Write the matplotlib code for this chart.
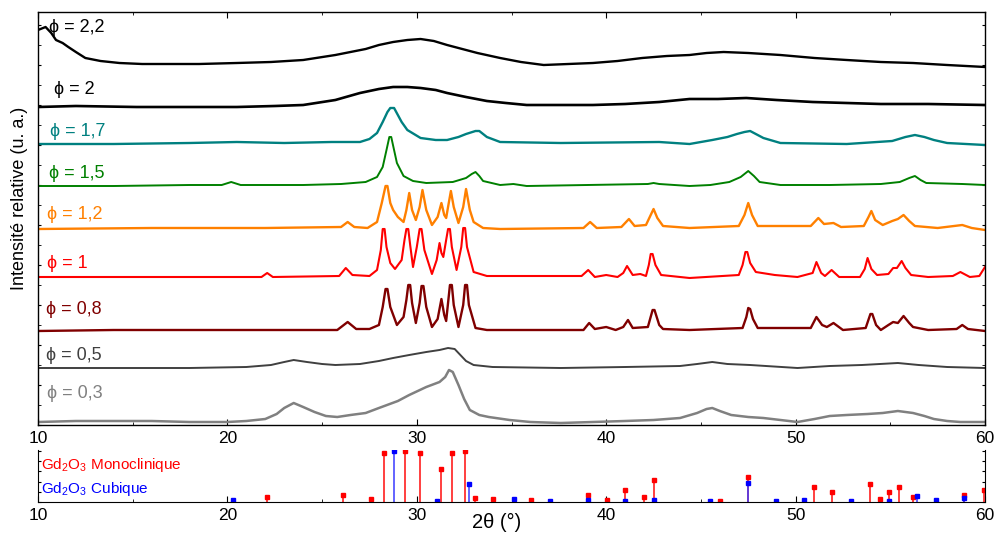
import matplotlib
matplotlib.use("Agg")
import matplotlib.pyplot as plt
from matplotlib.ticker import MultipleLocator

plt.rcParams['font.family'] = ['Liberation Sans', 'DejaVu Sans']

# ---------------- data (2theta, relative intensity incl. offset) ----------------
phi_03 = [(10,3),(12,4),(14,4),(16,4),(18,3),(20,3),(21,4),(22,6),(22.6,11),(23.0,17),(23.5,22),(24.0,18),
          (24.6,13),(25.2,9),(25.8,8),(26.5,10),(27.3,12),(28.0,17),(29.0,24),(29.6,30),(30.5,38),(31.2,43),
          (31.5,48),(31.7,55),(31.9,53),(32.2,40),(32.5,26),(32.8,15),(33.3,10),(33.8,8),(34.9,5),(36,3),
          (37.6,2),(39.3,3),(41,4),(42.5,5),(43.9,7),(44.8,12),(45.3,16),(45.6,17),(46.0,14),(46.6,10),
          (47.5,8),(48.3,7),(49.2,5),(50.1,3),(51.0,6),(51.8,9),(52.7,10),(53.8,11),(54.6,12),(55.4,14),
          (56.2,12),(56.8,9),(57.3,6),(58.0,4),(58.7,3),(60,3)]
phi_05 = [(10,57),(14,57),(18,57),(21,58),(22.3,60),(23.0,63),(23.5,65),(24.2,63),(25.0,61),(25.7,60),
          (27.0,61),(28.0,64),(28.75,67),(29.6,70),(30.5,73),(31.2,75),(31.65,77),(32.0,76),(32.3,70),
          (32.6,64),(33.0,60),(34.0,58),(37.6,57),(41,58),(43.9,59),(44.8,61),(45.6,63),(46.4,61),
          (47.6,60),(50.1,57),(51.8,59),(53.5,60),(55.4,62),(56.5,60),(58,58),(60,57)]
phi_08 = [(10,94),(14,95),(18,95),(22,95),(25.8,95),(26.35,103),(26.8,96),(27.5,96),(28.0,100),(28.2,118),
          (28.35,136),(28.45,136),(28.6,118),(28.95,100),(29.3,108),(29.45,125),(29.55,140),(29.65,140),
          (29.75,122),(29.95,102),(30.15,122),(30.25,139),(30.35,139),(30.5,118),(30.8,98),(31.1,106),
          (31.3,126),(31.45,110),(31.55,104),(31.65,122),(31.75,140),(31.85,140),(31.95,120),(32.2,98),
          (32.45,120),(32.55,140),(32.65,140),(32.75,120),(33.1,97),(33.7,95),(38.8,95),(39.1,102),
          (39.4,96),(40.0,98),(40.5,95),(40.9,98),(41.15,105),(41.4,97),(42.2,98),(42.45,115),(42.55,115),
          (42.8,100),(43.0,96),(44.4,95),(47.2,97),(47.4,108),(47.5,117),(47.6,116),(47.75,106),(48.0,97),
          (50.8,97),(51.1,108),(51.4,100),(51.65,98),(52.0,102),(52.5,95),(53.7,97),(53.95,111),(54.05,111),
          (54.25,100),(54.5,95),(54.9,100),(55.15,103),(55.4,102),(55.7,109),(56.0,102),(56.2,98),
          (57.0,95),(58.5,96),(58.8,100),(59.1,96),(60,94)]
phi_1 = [(10,148),(16,148),(21.8,148),(22.1,152),(22.4,148),(25.9,149),(26.25,157),(26.6,150),(27.5,149),
         (27.9,155),(28.1,175),(28.2,196),(28.3,196),(28.4,178),(28.6,162),(28.85,156),(29.2,165),
         (29.35,185),(29.45,196),(29.55,196),(29.65,180),(29.8,158),(30.0,178),(30.15,196),(30.25,196),
         (30.4,175),(30.8,151),(31.05,165),(31.2,182),(31.3,172),(31.4,168),(31.55,185),(31.65,196),
         (31.75,196),(31.85,178),(32.1,155),(32.35,178),(32.45,197),(32.55,197),(32.65,178),(33.0,153),
         (33.7,149),(38.7,149),(39.05,155),(39.4,148),(40.0,150),(40.6,148),(40.9,152),(41.1,159),
         (41.4,150),(41.8,151),(42.1,149),(42.25,160),(42.35,171),(42.45,171),(42.6,160),(42.9,150),
         (44.4,147),(47.0,150),(47.2,160),(47.35,173),(47.45,173),(47.6,162),(47.9,153),(48.9,150),
         (50.1,148),(50.9,152),(51.1,163),(51.35,152),(51.55,149),(51.9,155),(52.3,148),(53.4,148),
         (53.65,156),(53.8,167),(54.0,156),(54.3,150),(54.9,151),(55.15,157),(55.35,157),(55.6,164),
         (55.8,157),(56.1,150),(57.0,148),(58.3,149),(58.7,153),(59.2,148),(59.7,149),(60,158)]
phi_12 = [(10,196),(16,197),(22,197),(26.0,198),(26.35,203),(26.7,198),(27.4,197),(27.9,203),(28.15,222),
          (28.35,239),(28.45,239),(28.6,222),(28.75,215),(29.0,208),(29.3,203),(29.45,215),(29.6,232),
          (29.75,215),(29.95,205),(30.15,218),(30.3,235),(30.5,215),(30.8,200),(31.1,208),(31.3,222),
          (31.45,210),(31.55,207),(31.65,218),(31.8,234),(31.95,218),(32.2,202),(32.45,218),(32.6,236),
          (32.8,215),(33.0,203),(33.5,197),(34.4,196),(38.8,197),(39.15,203),(39.5,197),(40.8,198),
          (41.2,206),(41.5,199),(42.1,200),(42.3,208),(42.5,216),(42.7,207),(43.0,199),(44.4,197),
          (47.0,199),(47.3,210),(47.5,222),(47.7,210),(48.0,199),(50.8,199),(51.2,207),(51.5,201),
          (52.0,202),(52.4,198),(53.6,199),(53.85,208),(54.0,214),(54.2,205),(54.6,200),(55.1,204),
          (55.4,206),(55.7,210),(56.0,204),(56.3,199),(57.5,197),(58.8,200),(59.3,197),(60,195)]
phi_15 = [(10,239),(14,239),(18,240),(19.7,240),(20.2,243),(20.7,240),(24,240),(26,241),(27.3,243),
          (27.9,248),(28.2,258),(28.4,275),(28.55,288),(28.65,288),(28.8,275),(28.95,262),(29.3,249),
          (29.8,244),(30.5,242),(31.9,243),(32.6,247),(32.9,251),(33.1,253),(33.3,249),(33.5,244),
          (34.4,240),(35.1,241),(35.8,239),(39,240),(42.2,241),(42.5,242),(42.8,241),(44.4,239),
          (45.5,240),(46.5,243),(47.1,248),(47.5,254),(47.8,249),(48.1,243),(49.2,240),(51.8,240),
          (54.5,241),(55.5,243),(56.0,247),(56.3,249),(56.6,245),(56.9,242),(58.8,241),(60,240)]
phi_17 = [(10,281),(14,281),(18,282),(20.5,283),(23,282),(25.5,283),(27.0,283),(27.5,286),(27.9,292),
          (28.2,303),(28.45,313),(28.6,317),(28.8,317),(29.0,310),(29.2,303),(29.5,295),(30.2,287),
          (31.0,285),(31.6,285),(32.2,288),(32.6,291),(33.1,294),(33.3,294),(33.7,288),(34.4,283),
          (37.6,282),(42.8,283),(44.4,281),(45.6,285),(46.4,288),(46.9,291),(47.3,293),(47.6,294),
          (48.0,290),(48.3,287),(49.2,282),(52.7,281),(55.1,284),(55.8,288),(56.3,290),(56.8,288),
          (57.3,285),(58.0,282),(60,280)]
phi_2 = [(10,318),(12,319),(15.2,318),(18,318),(20.5,318),(22.5,319),(24,320),(25.7,325),(27.0,332),
         (28.0,336),(28.75,338),(29.5,338),(30.2,337),(31.0,335),(31.6,332),(32.6,328),(33.7,324),
         (34.7,322),(35.8,320),(37.5,320),(39.3,320),(41,321),(42.8,323),(44.4,326),(45.9,326),
         (47.4,327),(49,325),(50.9,323),(52.7,322),(54.5,321),(57,321),(60,320)]
phi_22 = [(10,395),(10.4,398),(10.7,392),(10.95,385),(11.3,382),(11.6,378),(12.0,373),(12.5,367),
          (13.3,364),(14.3,362),(15.5,361),(16.9,361),(18.5,361),(20.5,362),(22.3,363),(24.0,365),
          (25.7,370),(26.5,373),(27.3,376),(28.0,380),(28.75,383),(29.5,385),(30.2,386),(30.9,384),
          (31.6,380),(32.4,376),(33.2,372),(34.4,367),(35.5,363),(36.7,360),(38.0,361),(39.3,362),
          (40.6,364),(41.9,367),(43.2,369),(44.4,370),(45.3,372),(46.2,373),(47.5,372),(49.2,370),
          (51.0,367),(52.7,365),(54.5,363),(56.2,362),(58.0,360),(60,358)]

series_labels = ["\u03d5 = 0,3", "\u03d5 = 0,5", "\u03d5 = 0,8", "\u03d5 = 1", "\u03d5 = 1,2",
                 "\u03d5 = 1,5", "\u03d5 = 1,7", "\u03d5 = 2", "\u03d5 = 2,2"]

# reference patterns (stick positions / relative intensities)
mono_pos = [22.1, 26.09, 27.58, 28.29, 29.38, 30.17, 31.28, 31.86, 32.55, 33.07, 34.04, 36.03, 39.02,
            40.02, 41.01, 42.0, 42.5, 46.0, 47.47, 50.96, 51.94, 53.95, 54.44, 54.93, 55.48, 56.2,
            58.91, 59.95]
mono_int = [10, 14, 6.5, 96, 100, 96, 65, 96, 100, 8, 6.5, 4, 14, 4.5, 24, 10, 44, 2, 50, 29, 20, 35,
            6, 20, 29, 10, 14, 24]
cubic_pos = [20.31, 28.80, 31.05, 32.78, 35.13, 37.03, 39.02, 41.01, 42.5, 45.48, 47.47, 48.97, 50.46,
             52.94, 54.93, 56.43, 57.43, 58.91]
cubic_int = [3, 100, 1, 35, 5, 1, 3, 2, 4, 1, 38, 1, 3, 1, 2, 12, 4, 7]

x_ticks = [10, 20, 30, 40, 50, 60]

# ---------------- styling ----------------
series = [phi_03, phi_05, phi_08, phi_1, phi_12, phi_15, phi_17, phi_2, phi_22]
colors = ['#808080', '#404040', '#800000', '#ff0000', '#ff8000', '#008000', '#008080', '#000000', '#000000']
widths = [1.8, 1.4, 1.7, 1.5, 1.7, 1.4, 1.7, 1.9, 1.7]
label_px = [(47, 393), (46, 355), (46, 310), (47, 263), (47, 214), (49, 174), (50, 132), (54, 89), (49, 27)]

W, H = 996, 538
fig = plt.figure(figsize=(W / 100, H / 100), dpi=100)

def fx(px):
    return px / W

def fy(py):
    return 1 - py / H

ax = fig.add_axes([fx(38), fy(425), fx(985) - fx(38), fy(12) - fy(425)])
axb = fig.add_axes([fx(38), fy(502), fx(985) - fx(38), fy(450) - fy(502)])

for data, c, w in zip(series, colors, widths):
    xs = [p[0] for p in data]
    ys = [p[1] for p in data]
    ax.plot(xs, ys, color=c, lw=w, solid_joinstyle='round')

for lab, c, (px, py) in zip(series_labels, colors, label_px):
    fig.text(fx(px), fy(py), lab, color=c, fontsize=13, ha='left', va='center')

ax.set_xlim(10, 60)
ax.set_ylim(0, 413)
ax.set_xticks(x_ticks)
ax.xaxis.set_minor_locator(MultipleLocator(5))
ax.yaxis.set_major_locator(MultipleLocator(40))
ax.yaxis.set_minor_locator(MultipleLocator(20))
ax.tick_params(axis='x', which='both', direction='in', top=True, labelsize=12.5, pad=4)
ax.tick_params(axis='x', which='major', length=4)
ax.tick_params(axis='x', which='minor', length=2.5)
ax.tick_params(axis='y', which='both', direction='in', right=True, labelleft=False, length=2)
for s in ax.spines.values():
    s.set_linewidth(1.0)

# bottom stick panel
axb.vlines(mono_pos, 0, mono_int, color='#ff3030', lw=1.3)
axb.plot(mono_pos, mono_int, 's', color='#ff0000', ms=3.5, mec='#ff0000')
axb.vlines(cubic_pos, 0, cubic_int, color='#3a3aff', lw=1.3, alpha=0.85)
axb.plot(cubic_pos, cubic_int, 's', color='#0000ff', ms=3.5, mec='#0000ff')
axb.set_xlim(10, 60)
axb.set_ylim(0, 102)
axb.set_xticks(x_ticks)
axb.xaxis.set_minor_locator(MultipleLocator(5))
axb.yaxis.set_major_locator(MultipleLocator(20))
axb.spines['top'].set_visible(False)
axb.tick_params(axis='x', which='both', direction='in', labelsize=12.5, pad=4)
axb.tick_params(axis='x', which='major', length=4)
axb.tick_params(axis='x', which='minor', length=2.5)
axb.tick_params(axis='y', which='both', direction='in', right=True, labelleft=False, length=2)
axb.patch.set_alpha(0)

axb.text(0.003, 0.72, r"Gd$_\mathregular{2}$O$_\mathregular{3}$ Monoclinique", transform=axb.transAxes,
         color='#ff0000', fontsize=11, ha='left', va='center')
axb.text(0.003, 0.25, r"Gd$_\mathregular{2}$O$_\mathregular{3}$ Cubique", transform=axb.transAxes,
         color='#0000ff', fontsize=11, ha='left', va='center')

fig.text(fx(497), fy(522), "2\u03b8 (\u00b0)", fontsize=14.5, ha='center', va='center')
fig.text(fx(19), fy(198), "Intensit\u00e9 relative (u. a.)", fontsize=13, rotation=90,
         ha='center', va='center')

fig.savefig("out.png", dpi=100)
